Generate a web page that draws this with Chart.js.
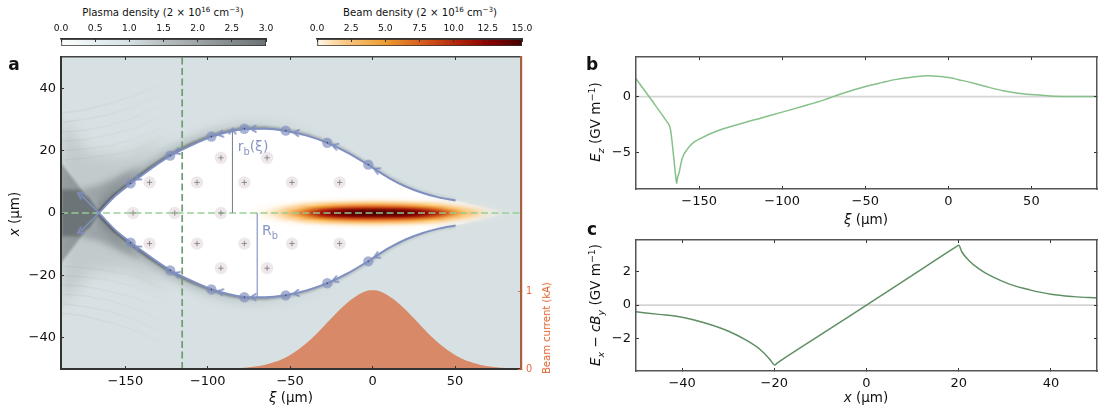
<!DOCTYPE html>
<html>
<head>
<meta charset="utf-8">
<title>Plasma wake</title>
<script src="https://cdn.jsdelivr.net/npm/chart.js@4/dist/chart.umd.js"></script>
<style>
  html, body { margin: 0; padding: 0; background: #fff; width: 1099px; height: 412px; overflow: hidden; }
  body { position: relative; font-family: 'DejaVu Sans', sans-serif; color: #111; }
  canvas { position: absolute; }
  .lbl { position: absolute; white-space: nowrap; transform: translate(-50%, -50%); line-height: 1; }
  .rot { transform: translate(-50%, -50%) rotate(-90deg); }
  .lbl sub, .lbl sup { font-size: 70%; line-height: 0; }
  .panel { font-weight: bold; font-size: 17px; }
  .ax { font-size: 13.5px; }
  .cb { font-size: 10.2px; }
  .note { font-size: 14px; color: #8a96c6; }
</style>
</head>
<body>
<canvas id="cbPlasma" width="250" height="30" style="left:40px;top:20px"></canvas>
<canvas id="cbBeam" width="250" height="30" style="left:290px;top:20px"></canvas>
<canvas id="wake" width="570" height="362" style="left:0;top:50px"></canvas>
<canvas id="fieldZ" width="529" height="182" style="left:570px;top:50px"></canvas>
<canvas id="fieldX" width="529" height="180" style="left:570px;top:232px"></canvas>

<div class="lbl cb" style="left:163px;top:13px">Plasma density (2 × 10<sup>16</sup> cm<sup>−3</sup>)</div>
<div class="lbl cb" style="left:420px;top:13px">Beam density (2 × 10<sup>16</sup> cm<sup>−3</sup>)</div>
<div class="lbl panel" style="left:14px;top:64px">a</div>
<div class="lbl panel" style="left:592px;top:64px">b</div>
<div class="lbl panel" style="left:592px;top:229px">c</div>
<div class="lbl ax rot" style="left:15px;top:214px"><i>x</i> (μm)</div>
<div class="lbl ax" style="left:291px;top:398px"><i>ξ</i> (μm)</div>
<div class="lbl ax rot" style="left:596px;top:122px"><i>E<sub>z</sub></i> (GV m<sup>−1</sup>)</div>
<div class="lbl ax" style="left:866px;top:220px"><i>ξ</i> (μm)</div>
<div class="lbl ax rot" style="left:596px;top:305px"><i>E<sub>x</sub></i> − <i>cB<sub>y</sub></i> (GV m<sup>−1</sup>)</div>
<div class="lbl ax" style="left:866px;top:398px"><i>x</i> (μm)</div>
<div class="lbl rot" style="left:547px;top:328px;font-size:10px;color:#e0622e">Beam current (kA)</div>
<div class="lbl note" style="left:253px;top:146px">r<sub>b</sub>(ξ)</div>
<div class="lbl note" style="left:270px;top:230px">R<sub>b</sub></div>

<script>
// ---------- data ----------
const xiTicks = [-150, -100, -50, 0, 50];
const xTicks = [-40, -20, 0, 20, 40];
const ezTicks = [-5, 0];
const exTicks = [-2, 0, 2];
const currentTicks = [0, 1];
const plasmaTicks = [0, 0.5, 1, 1.5, 2, 2.5, 3];
const beamTicks = [0, 2.5, 5, 7.5, 10, 12.5, 15];

// blowout sheath, upper half (lower half is the mirror)
const sheathXi = [-166, -156, -146.8, -135, -122.8, -110, -97.8, -87, -77.8, -65, -52.7, -40, -27.5, -15, -2.6, 10, 20, 30, 40, 50.3];
const sheathX = [0, 5.5, 9.4, 14, 18.3, 21.7, 24.4, 26, 26.9, 27, 26.3, 24.8, 22.5, 19.3, 15.4, 11.2, 8.5, 6.5, 5, 4];
const tailXi = [60, 70, 80];
const tailX = [2.8, 1.6, 0.6];

const electronXi = [-146.8, -122.8, -97.8, -77.8, -52.7, -27.5, -2.6];
const electronX = [9.5, 18.4, 24.5, 27, 26.4, 22.5, 15.5];
const arrowXi = [-142.2, -118.4, -92, -72, -46, -22.4, 2.8];
const arrowX = [11.3, 19.6, 25.3, 27, 25.7, 21.4, 13.7];
const arrowTurn = [-32, -22, -12, -1, 7, 18, 24];
const crossXi = [-166, -177];
const crossX = [0, 5.8];

const ionXi = [-135.3, -106.5, -77.8, -48.9, -20, -92, -64, -145.3, -120, -92];
const ionX = [9.8, 9.8, 9.8, 9.8, 9.8, 17.7, 17.7, 0, 0, 0];

const radiusMarkXi = -85;
const radiusMarkX = 26;
const blowoutMarkXi = -70;
const blowoutMarkX = -27;
const probeXi = -115.5;

// beam density map, columns in xi, rows in |x|
const beamColsXi = [-70, -60, -50, -40, -30, -20, -10, 0, 10, 20, 30, 40, 50, 60, 70, 80];
const beamRowsX = [0, 1, 2, 3, 4, 5];
const beamRow0 = [0.25, 0.9, 3, 8, 12, 14, 14.6, 15, 14.6, 14.2, 13, 10.5, 5.5, 2, 0.5, 0.1];
const beamRow1 = [0.18, 0.7, 2.2, 5.8, 9.8, 12, 13, 13.2, 13, 12.3, 10.5, 7.5, 3.4, 1.4, 0.35, 0.05];
const beamRow2 = [0.1, 0.4, 1.1, 2.8, 5, 6.6, 7.4, 7.6, 7.4, 6.8, 5.4, 3.4, 1.5, 0.6, 0.12, 0];
const beamRow3 = [0.04, 0.15, 0.4, 0.9, 1.6, 2.2, 2.6, 2.8, 2.6, 2.3, 1.7, 1, 0.45, 0.15, 0.02, 0];
const beamRow4 = [0, 0.04, 0.1, 0.22, 0.4, 0.55, 0.65, 0.7, 0.65, 0.55, 0.4, 0.22, 0.1, 0.03, 0, 0];
const beamRow5 = [0, 0, 0.01, 0.03, 0.05, 0.08, 0.1, 0.1, 0.1, 0.08, 0.05, 0.03, 0.01, 0, 0, 0];

// beam current (kA)
const currentXi = [-80, -75, -70, -65, -60, -55, -50, -45, -40, -35, -30, -25, -20, -15, -10, -5, 0, 5, 10, 15, 20, 25, 30, 35, 40, 45, 50, 55, 60, 65, 70, 75, 80];
const currentKa = [0.012, 0.021, 0.035, 0.055, 0.085, 0.125, 0.18, 0.25, 0.334, 0.431, 0.54, 0.651, 0.76, 0.857, 0.934, 0.99, 1.01, 0.99, 0.934, 0.857, 0.76, 0.651, 0.54, 0.431, 0.334, 0.25, 0.18, 0.125, 0.085, 0.055, 0.035, 0.021, 0.012];

// dark electron pile-up behind the bubble
const coreXi = [-189, -178, -171, -165.5, -171, -178, -189];
const coreX = [7.5, 7.5, 4.5, 0, -4.5, -7.5, -7.5];
const wingXi = [-189, -175, -189];
const wingX = [16, 6.4, 7];
const shoulderXi = [-178, -166, -150, -140, -155, -166];
const shoulderX = [7.5, 9, 13, 15, 7, 1];
const hazeXi = [-189, -172, -150, -125, -160, -189];
const hazeX = [30, 19, 18, 24, 4, 4];

// faint trajectory stripes fanning out behind the bubble
const fanXi = [-189, -175, -160, -145, -130, -115];
const fanX1 = [17, 17.5, 18.5, 20, 23.5, 27];
const fanX2 = [20, 20.5, 21.5, 23.5, 27, 30.5];
const fanX3 = [23, 23.5, 25, 27, 30.5, 34];
const fanX4 = [26, 26.5, 28, 30.5, 34, 37.5];
const fanX5 = [29, 30, 31.5, 34, 37.5, 41];
const fanX6 = [32, 33, 35, 37.5, 41, 44.5];

// panel b
const ezXi = [-188, -187, -178, -169.4, -168.4, -167.2, -165.4, -164, -163.5, -163, -162, -160.3, -157, -154, -149, -140, -125.7, -112, -100, -87, -74.7, -70, -60, -50.3, -40, -32, -22, -11.6, 0, 8, 17, 25, 33, 42, 50, 64, 75, 90];
const ezField = [1.6, 1.4, -0.45, -2.25, -2.47, -3, -5.3, -7.3, -7.8, -7.3, -6.8, -5.6, -4.7, -4.2, -3.75, -3.14, -2.47, -1.9, -1.4, -0.85, -0.3, -0.05, 0.45, 0.88, 1.25, 1.52, 1.74, 1.86, 1.7, 1.45, 1.13, 0.8, 0.52, 0.3, 0.18, 0.03, 0, 0];

// panel c
const exPos = [-50, -45, -40, -35, -29.8, -26.2, -23.2, -21, -20.3, -19.9, -19.4, -10, 0, 10, 19.4, 20, 20.7, 22.2, 24.4, 27.3, 31, 35.4, 40, 45, 50];
const exField = [-0.4, -0.55, -0.72, -1.06, -1.56, -2.06, -2.6, -3.2, -3.46, -3.54, -3.44, -1.77, 0, 1.77, 3.44, 3.54, 3.14, 2.64, 2.14, 1.68, 1.24, 0.9, 0.64, 0.5, 0.42];

// ---------- colours ----------
const plasmaStops = [[0, '#ffffff'], [0.5, '#e6eff1'], [1, '#d7e0e2'], [1.5, '#b6bec0'], [2, '#9da5a7'], [2.5, '#848b8d'], [3, '#6b7274']];
const beamStops = [[0, '#fff8ee'], [1.2, '#fddcaa'], [2.5, '#f9c074'], [5, '#eb9c30'], [7.5, '#d9601f'], [10, '#b52a0c'], [12.5, '#8a0000'], [15, '#450000']];
const plasmaBg = '#d7e0e2';
const sheathBlue = '#7f8fc0';
const FONT = "'DejaVu Sans', sans-serif";
const MINUS = '\u2212';

const pts = (xs, ys, sign = 1) => xs.map((v, i) => ({ x: v, y: sign * ys[i] }));

function hex(c) {
  return [1, 3, 5].map(i => parseInt(c.slice(i, i + 2), 16));
}

function beamRgba(v) {
  let i = 0;
  while (i < beamStops.length - 2 && v > beamStops[i + 1][0]) i++;
  const [a, ca] = beamStops[i], [b, cb] = beamStops[i + 1];
  const t = Math.min(1, (v - a) / (b - a));
  const c0 = hex(ca), c1 = hex(cb);
  return [0, 1, 2].map(k => Math.round(c0[k] + (c1[k] - c0[k]) * t)).concat(Math.round(255 * Math.min(1, v / 0.9)));
}

function beamImage() {
  const rows = [beamRow5, beamRow4, beamRow3, beamRow2, beamRow1, beamRow0, beamRow1, beamRow2, beamRow3, beamRow4, beamRow5];
  const c = document.createElement('canvas');
  c.width = beamColsXi.length;
  c.height = rows.length;
  const g = c.getContext('2d');
  const img = g.createImageData(c.width, c.height);
  rows.forEach((row, r) => row.forEach((v, k) => {
    img.data.set(beamRgba(v), (r * c.width + k) * 4);
  }));
  g.putImageData(img, 0, 0);
  return c;
}

function chevron() {
  const c = document.createElement('canvas');
  c.width = c.height = 10;
  const g = c.getContext('2d');
  g.strokeStyle = sheathBlue;
  g.lineWidth = 1.6;
  g.beginPath();
  g.moveTo(7.5, 1.5);
  g.lineTo(1.5, 5);
  g.lineTo(7.5, 8.5);
  g.stroke();
  return c;
}

// ---------- axes ----------
function axisConfig(position, min, max, ticks, size, extra = {}) {
  const horizontal = position === 'top' || position === 'bottom';
  const show = extra.labels !== false;
  return {
    type: 'linear',
    position,
    axis: horizontal ? 'x' : 'y',
    min,
    max,
    afterBuildTicks: s => { s.ticks = ticks.map(v => ({ value: v })); },
    afterFit: s => {
      if (horizontal) s.height = size; else s.width = size;
      s.paddingTop = s.paddingBottom = s.paddingLeft = s.paddingRight = 0;
    },
    border: { display: true, color: extra.border || '#555', width: extra.borderWidth || 1.5, z: 3 },
    grid: { drawOnChartArea: false, drawTicks: true, tickLength: -3, tickWidth: 1, tickColor: extra.tickColor || '#333', z: 3 },
    ticks: {
      display: show,
      autoSkip: false,
      maxRotation: 0,
      minRotation: 0,
      padding: extra.padding || 8,
      color: extra.color || '#111',
      font: { family: FONT, size: extra.fontSize || 13 },
      callback: extra.format || (v => String(v).replace('-', MINUS))
    }
  };
}

function baseOptions(scales) {
  return {
    responsive: false,
    animation: false,
    events: [],
    layout: { padding: 0 },
    plugins: { legend: { display: false }, tooltip: { enabled: false } },
    scales
  };
}

// ---------- colour bars ----------
function colorBar(id, stops, ticks, max, area) {
  const el = document.getElementById(id);
  new Chart(el, {
    type: 'bar',
    data: {
      labels: [''],
      datasets: [{
        data: [[0, max]],
        barPercentage: 1,
        categoryPercentage: 1,
        borderSkipped: false,
        borderWidth: 1,
        borderColor: '#333',
        backgroundColor: c => {
          const a = c.chart.chartArea;
          if (!a) return '#ccc';
          const g = c.chart.ctx.createLinearGradient(a.left, 0, a.right, 0);
          stops.forEach(([v, col]) => g.addColorStop(v / max, col));
          return g;
        }
      }]
    },
    options: Object.assign(baseOptions({
      x: axisConfig('top', 0, max, ticks, area.top, {
        fontSize: 9.2, padding: 8, border: '#333',
        format: v => v.toFixed(1)
      }),
      y: { type: 'category', display: false }
    }), {
      indexAxis: 'y',
      layout: { padding: { left: area.left, right: el.width - area.right, bottom: el.height - area.bottom } }
    })
  });
}
colorBar('cbPlasma', plasmaStops, plasmaTicks, 3, { left: 21, right: 226, top: 19, bottom: 26 });
colorBar('cbBeam', beamStops, beamTicks, 15, { left: 27, right: 232, top: 19, bottom: 26 });

// ---------- panel a helpers ----------
const softLayers = {
  id: 'softLayers',
  beforeDatasetDraw(chart, { meta }) {
    const soft = chart.data.datasets[meta.index].soft;
    if (!soft) return;
    const { ctx, chartArea: a, scales } = chart;
    ctx.save();
    ctx.beginPath();
    ctx.rect(a.left, a.top, a.right - a.left, a.bottom - a.top);
    ctx.clip();
    ctx.filter = `blur(${soft.blur}px)`;
    ctx.beginPath();
    meta.data.forEach((p, i) => (i ? ctx.lineTo(p.x, p.y) : ctx.moveTo(p.x, p.y)));
    if (soft.fill) {
      ctx.closePath();
      ctx.fillStyle = soft.fill;
      ctx.fill();
    } else {
      const x0 = scales.x.getPixelForValue(soft.from), x1 = scales.x.getPixelForValue(soft.to);
      const g = ctx.createLinearGradient(x0, 0, x1, 0);
      g.addColorStop(0, soft.colorFrom);
      g.addColorStop(1, soft.colorTo);
      ctx.strokeStyle = g;
      ctx.lineWidth = soft.width;
      ctx.lineJoin = 'round';
      ctx.stroke();
    }
    ctx.restore();
  },
  afterDatasetDraw(chart, { meta }) {
    const ds = chart.data.datasets[meta.index];
    if (!ds.beamMap) return;
    const { ctx, scales } = chart;
    const img = beamImage();
    const colStep = beamColsXi[1] - beamColsXi[0];
    const rowStep = beamRowsX[1] - beamRowsX[0];
    const top = beamRowsX[beamRowsX.length - 1] + rowStep / 2;
    const xa = scales.x.getPixelForValue(beamColsXi[0] - colStep / 2);
    const xb = scales.x.getPixelForValue(beamColsXi[beamColsXi.length - 1] + colStep / 2);
    const ya = scales.y.getPixelForValue(top);
    const yb = scales.y.getPixelForValue(-top);
    ctx.save();
    ctx.imageSmoothingEnabled = true;
    ctx.imageSmoothingQuality = 'high';
    ctx.drawImage(img, xa, ya, xb - xa, yb - ya);
    ctx.restore();
  }
};

const plotBackground = {
  id: 'plotBackground',
  beforeDatasetsDraw(chart) {
    const { ctx, chartArea: a } = chart;
    ctx.save();
    ctx.fillStyle = plasmaBg;
    ctx.fillRect(a.left, a.top, a.right - a.left, a.bottom - a.top);
    ctx.restore();
  }
};

const arrowHead = chevron();
const lineDefaults = { pointRadius: 0, borderWidth: 0, fill: false, showLine: true };
const wakeSets = [];

function softSet(data, soft) {
  wakeSets.push({ ...lineDefaults, data, soft, showLine: false });
}

// haze and pile-up behind the bubble
[1, -1].forEach(s => {
  softSet(pts(hazeXi, hazeX, s), { fill: 'rgba(110,118,121,0.2)', blur: 7 });
  [fanX1, fanX2, fanX3, fanX4, fanX5, fanX6].forEach(f => {
    softSet(pts(fanXi, f, s), { from: -189, to: -115, width: 1.4, blur: 0.7, colorFrom: 'rgba(120,130,133,0.09)', colorTo: 'rgba(120,130,133,0)' });
  });
  softSet(pts(shoulderXi, shoulderX, s), { fill: 'rgba(100,108,112,0.42)', blur: 3 });
  softSet(pts(wingXi, wingX, s), { fill: 'rgba(105,113,116,0.55)', blur: 1 });
  softSet(pts(sheathXi, sheathX, s), { from: -165, to: -20, width: 14, blur: 4, colorFrom: 'rgba(95,104,108,0.6)', colorTo: 'rgba(170,180,183,0)' });
  softSet(pts(sheathXi, sheathX, s), { from: -160, to: 35, width: 5, blur: 1, colorFrom: 'rgba(70,78,82,0.9)', colorTo: 'rgba(130,140,145,0.2)' });
});
softSet(pts(coreXi, coreX), { fill: '#6c7477', blur: 1.5 });

// evacuated bubble, fades out along the beam tail
wakeSets.push({
  ...lineDefaults,
  data: pts(sheathXi.concat(tailXi), sheathX.concat(tailX)),
  fill: '+1',
  cubicInterpolationMode: 'monotone',
  backgroundColor: c => {
    const chart = c.chart;
    if (!chart.chartArea) return '#fff';
    const g = chart.ctx.createLinearGradient(chart.scales.x.getPixelForValue(30), 0, chart.scales.x.getPixelForValue(78), 0);
    g.addColorStop(0, 'rgba(255,255,255,1)');
    g.addColorStop(1, 'rgba(255,255,255,0)');
    return g;
  }
});
wakeSets.push({
  ...lineDefaults,
  beamMap: true,
  data: pts(sheathXi.concat(tailXi), sheathX.concat(tailX), -1),
  cubicInterpolationMode: 'monotone'
});

// ions
wakeSets.push({
  ...lineDefaults, showLine: false,
  data: pts(ionXi, ionX).concat(pts(ionXi.slice(0, 7), ionX.slice(0, 7), -1)),
  pointRadius: 6.2, pointBackgroundColor: '#efe8eb', pointBorderWidth: 0
});

// on-axis and probe lines
wakeSets.push({
  ...lineDefaults, borderWidth: 2, borderColor: 'rgba(150,205,150,0.72)', borderDash: [7, 3.5],
  data: [{ x: -189, y: 0 }, { x: 90, y: 0 }]
});
wakeSets.push({
  ...lineDefaults, borderWidth: 1.7, borderColor: '#6f9c72', borderDash: [7, 3.5],
  data: [{ x: probeXi, y: -50 }, { x: probeXi, y: 50 }]
});

wakeSets.push({
  ...lineDefaults, showLine: false,
  data: pts(ionXi, ionX).concat(pts(ionXi.slice(0, 7), ionX.slice(0, 7), -1)),
  pointStyle: 'cross', pointRadius: 2.7, pointBorderWidth: 0.8, pointBorderColor: '#777'
});

// radius markers
wakeSets.push({ ...lineDefaults, borderWidth: 1.1, borderColor: '#7d8291', data: [{ x: radiusMarkXi, y: 0 }, { x: radiusMarkXi, y: radiusMarkX }] });
wakeSets.push({ ...lineDefaults, borderWidth: 1.1, borderColor: sheathBlue, data: [{ x: blowoutMarkXi, y: 0 }, { x: blowoutMarkXi, y: blowoutMarkX }] });

// sheath trajectories, electrons and direction arrows
[1, -1].forEach(s => {
  wakeSets.push({ ...lineDefaults, borderWidth: 2, borderColor: sheathBlue, cubicInterpolationMode: 'monotone', data: pts(sheathXi, sheathX, s) });
  wakeSets.push({ ...lineDefaults, borderWidth: 1.5, borderColor: sheathBlue, data: pts(crossXi, crossX, s) });
  wakeSets.push({
    ...lineDefaults, showLine: false, data: pts(electronXi, electronX, s),
    pointRadius: 5.2, pointBackgroundColor: 'rgba(127,143,192,0.68)', pointBorderWidth: 0
  });
  wakeSets.push({
    ...lineDefaults, showLine: false, data: pts(electronXi, electronX, s),
    pointRadius: 0.7, pointBackgroundColor: '#333a55', pointBorderWidth: 0
  });
  wakeSets.push({
    ...lineDefaults, showLine: false,
    data: pts(arrowXi, arrowX, s).concat([{ x: crossXi[1], y: s * crossX[1] }]),
    pointStyle: arrowHead, pointRadius: 5,
    pointRotation: arrowTurn.map(a => s * a).concat([s * 29])
  });
});
wakeSets.push({
  ...lineDefaults, showLine: false, data: [{ x: radiusMarkXi, y: radiusMarkX }],
  pointStyle: arrowHead, pointRadius: 5, pointRotation: 90
});

// beam current profile
wakeSets.push({
  ...lineDefaults, yAxisID: 'yCurrent', fill: 'origin', backgroundColor: '#d88a68',
  tension: 0.4, data: pts(currentXi, currentKa)
});

wakeSets.forEach((d, i) => { d.order = wakeSets.length - i; });

new Chart(document.getElementById('wake'), {
  type: 'line',
  data: { datasets: wakeSets },
  plugins: [plotBackground, softLayers],
  options: baseOptions({
    x: axisConfig('bottom', -189, 90, xiTicks, 43, { border: '#333', borderWidth: 2 }),
    xTop: axisConfig('top', -189, 90, xiTicks, 7, { labels: false, border: '#444' }),
    y: axisConfig('left', -50, 50, xTicks, 61, { border: '#333', borderWidth: 2 }),
    yCurrent: axisConfig('right', 0, 4, currentTicks, 49, {
      border: '#a9603f', borderWidth: 2.2, tickColor: '#e8693a', color: '#e8693a', fontSize: 9.7, padding: 8
    })
  })
});

// ---------- panels b and c ----------
function fieldChart(id, xData, yData, color, xRange, yRange, xt, yt, top, bottomSize) {
  new Chart(document.getElementById(id), {
    type: 'line',
    data: {
      datasets: [
        { data: pts(xRange, [0, 0]), borderColor: '#d4d4d4', borderWidth: 1.8, pointRadius: 0, order: 2 },
        { data: pts(xData, yData), borderColor: color, borderWidth: 1.5, pointRadius: 0, cubicInterpolationMode: 'monotone', order: 1 }
      ]
    },
    options: baseOptions({
      x: axisConfig('bottom', xRange[0], xRange[1], xt, bottomSize),
      xTop: axisConfig('top', xRange[0], xRange[1], xt, top, { labels: false }),
      y: axisConfig('left', yRange[0], yRange[1], yt, 66),
      yRight: axisConfig('right', yRange[0], yRange[1], yt, 2, { labels: false })
    })
  });
}
fieldChart('fieldZ', ezXi, ezField, '#86c18a', [-188, 89.5], [-8.3, 3.55], xiTicks, ezTicks, 7, 43);
fieldChart('fieldX', exPos, exField, '#5f8f63', [-50, 50], [-3.9, 3.85], xTicks, exTicks, 8, 41);
</script>
</body>
</html>
